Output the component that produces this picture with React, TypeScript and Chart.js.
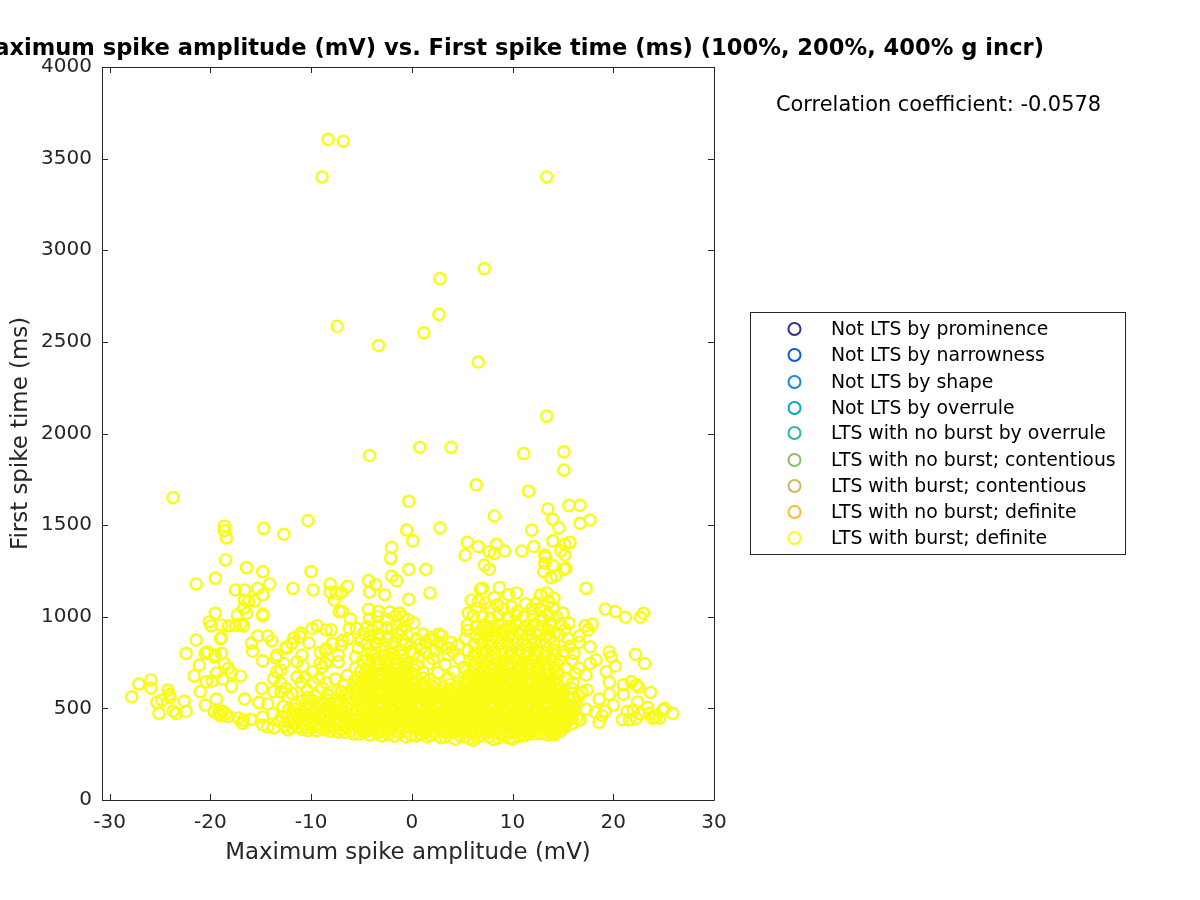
import React, { useEffect, useRef } from "react";
import { Chart, registerables } from "chart.js";

Chart.register(...registerables);

const titleText = "Maximum spike amplitude (mV) vs. First spike time (ms) (100%, 200%, 400% g incr)";
const xAxisLabel = "Maximum spike amplitude (mV)";
const yAxisLabel = "First spike time (ms)";
const correlationText = "Correlation coefficient: -0.0578";
const xTickValues = [-30, -20, -10, 0, 10, 20, 30];
const yTickValues = [0, 500, 1000, 1500, 2000, 2500, 3000, 3500, 4000];
const legendLabels = [
  "Not LTS by prominence",
  "Not LTS by narrowness",
  "Not LTS by shape",
  "Not LTS by overrule",
  "LTS with no burst by overrule",
  "LTS with no burst; contentious",
  "LTS with burst; contentious",
  "LTS with no burst; definite",
  "LTS with burst; definite",
];
const legendColors = ["#3B2C8F", "#0B5CE0", "#1A86DC", "#06A8C8", "#2CB5A0", "#86BE6E", "#D2B65A", "#FDBB2B", "#F9FB15"];

const upperPoints = [
  [-8.3,3605],[-6.8,3595],[-8.9,3400],[13.4,3400],[7.2,2900],[2.8,2845],[2.7,2650],[-7.4,2585],[1.2,2550],[-3.3,2480],[6.6,2390],[13.4,2095],
  [0.8,1925],[3.9,1925],[-4.2,1880],[11.1,1890],[15.1,1900],[15.1,1800],[6.4,1720],[11.6,1685],[-23.7,1650],[-0.3,1630],[15.6,1608],[16.7,1608],
  [13.5,1588],[8.2,1550],[14,1532],[16.7,1510],[17.7,1528],[-10.3,1525],[14.6,1485],[-18.6,1495],[-18.6,1470],[-18.4,1430],[-14.7,1482],[-12.7,1450],
  [-0.5,1473],[2.8,1485],[11.9,1473],[0.1,1414],[5.5,1406],[6.6,1383],[5.3,1337],[8.4,1395],[7.7,1355],[8.2,1346],[9.2,1359],[10.9,1359],[12.1,1383],
  [14,1414],[15.7,1406],[15.2,1395],[14.8,1360],[15.2,1337],[13.2,1337],[13.3,1325],[13.2,1292],[13.1,1246],[14,1280],[15.3,1264],[15.1,1258],[7.2,1282],
  [7.7,1259],[-0.3,1259],[1.4,1259],[1.8,1130],[-0.3,1095],[-2,1378],[-2.1,1320],[-18.5,1310],[-21.4,1179],[-19.5,1211],[-16.4,1268],[-14.8,1246],
  [-10,1246],[-11.8,1155],[-9.8,1146],[-8.1,1179],[-6.4,1166],[-8.1,1133],[-7.5,1128],[-7,1133],[-7.7,1091],[-7.2,1028],[-6.9,1030],[-4.3,1197],[-3.6,1175],
  [-2,1222],[-1.5,1197],[-4.2,1135],[-2.7,1120],[13.8,1215],[14.3,1225],[17.3,1155],[12.8,1120],[13.4,1130],[14.1,1100],[7,1155],[6.8,1150],
];

const leftWing = [
  [-17.5,1146],[-16.6,1146],[-15.3,1155],[-14.1,1179],[-14.8,1119],[-16.6,1091],[-15.6,1086],[-16.2,1085],[-16.7,1046],[-16.4,1019],[-17.3,1010],[-19.5,1019],
  [-14.8,1015],[-14.8,1005],[-20.1,973],[-19.9,950],[-18.9,955],[-18.2,950],[-17.5,951],[-16.7,950],[-17,960],[-18.9,885],[-19,880],[-21.4,873],[-22.4,800],
  [-20.3,809],[-20.5,800],[-19.5,791],[-18.9,800],[-21.1,736],[-19.6,781],[-18.6,745],[-18.2,720],[-21.6,677],[-19.4,693],[-17,677],[-17.9,693],[-20.4,645],
  [-19.8,650],[-18.8,660],[-17.9,620],[-21,591],[-20.5,518],[-19.4,551],[-16.6,551],[-27.8,563],[-27.1,633],[-25.9,655],[-25.9,611],[-24.2,600],[-24.1,575],
  [-24,560],[-25.3,533],[-24.8,545],[-25.1,473],[-22.6,540],[-23.7,486],[-23.4,473],[-22.4,484],[-19.6,480],[-19.2,470],[-18.8,485],[-18.5,470],[-18.2,455],
  [-19,460],[-17.2,447],[-16.7,436],[-16,440],[-16.8,418],[-14.8,453],[-14.8,409],[-14.3,398],[-13.7,393],[-12.3,382],[-15.9,857],[-15.3,895],[-14.3,895],
  [-13.9,868],[-15.8,813],[-14.8,759],[-10.2,857],[-9.1,806],[-11,911],[-9.9,937],[-9.4,950],[-8.5,928],[-8,928],[-6.2,937],[-5.5,937],[-6.1,988],[-11.1,890],
  [-11.9,855],[-12.4,829],[-13.4,791],[-13.5,775],[-12.7,745],[-11.4,754],[-10.9,791],[-10.8,731],[-13,709],[-13.4,700],[-13.7,664],[-13,638],[-11.4,671],
  [-10.6,671],[-14.9,609],[-13.7,591],[-11.9,582],[-12.3,564],[-10.4,600],[-15.2,533],[-14.3,524],[-9.1,745],[-8.6,745],[-8.9,725],[-7.3,754],[-7.3,790],
  [-5.6,781],[-7.9,852],[-6.9,870],[-6.3,880],[-8.5,825],[-7,845],[-8.6,815],[-11.7,885],[-12.5,835],[-9.9,700],[-9.2,660],[-8.5,640],[-7.6,660],[-6.8,630],
  [-9.8,640],[-8.9,610],[-7.3,600],[-6.4,680],[-5.7,650],[-5.2,620],[-12.8,510],[-12.2,495],[-11.5,520],[-10.8,480],[-10.1,505],[-9.4,530],[-8.8,475],
  [-8.1,510],[-7.5,545],[-6.9,490],[-6.2,525],[-5.6,565],[-12.9,455],[-12.2,430],[-11.5,470],[-10.8,425],[-10.2,455],[-9.5,410],[-8.9,440],[-8.2,400],
  [-7.6,430],[-7,385],[-6.4,420],[-5.8,465],[-13.2,430],[-13.8,470],[-11.2,400],[-10,395],[-8.6,385],[-7.8,395],[-6,375],[-5.3,405],[-5.2,360],
  [-13,590],[-12.5,610],[-11,640],[-9.6,570],[-8.4,575],[-7.9,530],[-6.7,570],[-5.6,720],[-5.9,610],[-5.1,700],[-4.9,760],[-5.3,830],[-5,870],[-4.8,910],
  [-11.9,460],[-11.2,445],[-10.5,500],[-9.9,470],[-9.2,450],[-8.5,500],[-7.9,465],[-7.2,450],[-6.6,460],[-6,440],[-5.4,490],[-11.6,495],[-10.9,540],[-10.3,560],
  [-9.1,495],[-8.3,545],[-7.1,530],[-6.3,585],[-5.2,540],[-4.9,585],[-5.5,435],[-6.7,405],[-7.4,415],[-8.3,425],[-9.1,395],[-9.9,425],[-10.6,405],[-11.6,415],
];

const rightWing = [
  [19.2,1042],[20.2,1028],[21.2,997],[22.7,997],[23,1019],[17.9,960],[17.2,950],[17.5,928],[17.7,836],[16.6,895],[16.6,860],[22.2,795],[23.1,745],[19.6,808],
  [19.8,781],[20.2,731],[19.3,700],[18.3,764],[17.7,745],[17.3,682],[19.6,642],[21,628],[21.8,645],[22.3,628],[22.5,615],[23.7,587],[21,577],[19.6,577],[20,518],
  [18.6,551],[17.4,600],[16.9,590],[16.6,570],[22.4,535],[23.4,506],[25.1,500],[25.9,473],[24.6,446],[23.9,446],[23.6,473],[20.9,439],[21.6,437],[21.4,484],[22.3,446],
  [22,490],[22.7,470],[24.9,490],[24.2,450],[18.6,424],[18.2,480],[18.9,460],[19.2,486],[16.7,437],[17.3,495],[16.4,450],[15,418],[14.2,358],
  [16.6,720],[16.2,690],[15.9,760],[16.1,800],[15.7,840],[15.5,880],[16,640],[15.8,610],[16.3,530],[15.8,500],[15.9,470],[15.4,440],[14.9,395],[16.1,560],
  [15.2,930],[14.8,960],[15.6,965],[14.4,1000],[15,1020],[14,1050],[13.6,1080],[12.7,1040],[13.1,985],[14.6,900],[15.1,810],[15.3,720],[15.4,660],[15.1,590],
];

const coreCloud = [
  [1.5,345],[2.9,340],[4.3,332],[5.3,345],[6.1,327],[6.9,350],[8.1,330],[9.3,345],[10,333],[11.2,350],[12.4,362],[13.5,355],
  [-4.6,372],[-3.4,365],[-2.3,358],[-1.2,370],[-0.1,355],[0.9,362],[2.2,368],[3.6,358],[5.1,372],[6.3,360],[7.4,368],[8.7,362],[10.4,372],[11.8,378],[12.9,385],[14.1,375],
  [-5,395],[-3.9,398],[-3,392],[-1.9,402],[-0.9,390],[0.2,396],[1.3,388],[2.7,395],[3.2,402],[4.2,385],[5,398],[5.8,390],[6.6,400],[7.6,392],[8.3,402],[9.1,388],[9.9,400],[11,392],[11.6,404],[12.5,395],[13.4,408],[14.5,402],
  [-4.4,428],[-3.5,432],[-2.6,425],[-1.6,436],[-0.5,428],[0.6,432],[1.6,424],[2.4,434],[3.4,428],[4.5,420],[5.4,432],[6.2,425],[7,435],[7.9,425],[8.8,433],[9.5,424],[10.5,435],[11.3,428],[12.1,434],[13,426],[14,438],[15,430],
  [-4.8,462],[-3.8,468],[-3,460],[-2.1,472],[-1.1,462],[-0.1,468],[1,460],[2,470],[2.9,462],[3.9,470],[4.8,458],[5.8,468],[6.6,460],[7.4,472],[8.3,462],[9.2,470],[10,460],[10.9,470],[11.8,462],[12.7,472],[13.5,462],[14.5,470],[15.3,465],
  [-4.3,498],[-3.3,504],[-2.4,496],[-1.5,506],[-0.6,498],[0.4,505],[1.4,496],[2.4,504],[3.4,498],[4.3,505],[5.2,496],[6.1,504],[7,496],[7.8,506],[8.7,498],[9.6,506],[10.4,496],[11.4,504],[12.3,498],[13.1,506],[14,498],[15,505],
  [-4.7,535],[-3.8,540],[-2.9,532],[-1.9,542],[-1,534],[0,540],[0.9,532],[1.9,540],[2.9,534],[3.8,542],[4.7,532],[5.6,540],[6.5,532],[7.3,542],[8.2,534],[9.1,542],[10,532],[10.9,540],[11.8,534],[12.7,542],[13.6,534],[14.6,542],
  [-4.2,572],[-3.3,578],[-2.4,570],[-1.4,580],[-0.5,572],[0.4,578],[1.5,570],[2.5,580],[3.4,574],[4.3,580],[5.2,568],[6.1,576],[7,568],[7.8,578],[8.7,570],[9.6,578],[10.5,570],[11.4,578],[12.3,570],[13.2,578],[14.1,572],[15,578],
  [-4.6,610],[-3.8,616],[-2.9,608],[-1.9,618],[-1,610],[0,616],[0.9,608],[2,618],[3.1,612],[4.6,618],[5.7,606],[6.6,614],[7.5,606],[8.3,616],[9.2,608],[10.1,616],[11,606],[11.9,614],[12.8,606],[13.8,616],[14.7,612],
  [-4.2,648],[-3.3,654],[-2.4,646],[-1.4,656],[-0.5,648],[0.5,654],[1.8,660],[3.7,665],[5.1,645],[6.1,652],[7,644],[7.9,654],[8.7,646],[9.6,654],[10.5,644],[11.4,652],[12.3,644],[13.2,654],[14.2,650],
  [-4.6,686],[-3.8,692],[-2.9,684],[-1.9,694],[-1,686],[0,692],[1.1,700],[2.6,695],[4.2,700],[5.7,682],[6.6,690],[7.5,682],[8.3,692],[9.2,684],[10.1,692],[11,682],[11.9,690],[12.8,682],[13.7,692],[14.6,688],
  [-4.1,724],[-3.3,730],[-2.4,722],[-1.4,732],[-0.5,724],[0.5,736],[1.7,745],[3.3,740],[5.2,725],[6.1,728],[7,720],[7.9,730],[8.8,722],[9.6,730],[10.5,720],[11.4,728],[12.3,720],[13.2,730],[14.2,726],
  [-4.4,765],[-3.5,772],[-2.6,762],[-1.6,774],[-0.7,766],[0.7,780],[2.1,772],[3.6,790],[4.7,770],[5.8,760],[6.7,768],[7.5,758],[8.4,770],[9.3,762],[10.2,768],[11.1,758],[12,768],[12.9,760],[13.8,770],[14.7,760],
  [-4,808],[-3,815],[-2.2,802],[-1.2,818],[-0.2,810],[0.9,825],[2.3,815],[3.5,830],[4.6,845],[5.6,815],[6.4,802],[7.3,812],[8.2,804],[9,814],[9.9,806],[10.7,814],[11.6,804],[12.5,812],[13.4,806],[14.2,816],[15,790],
  [-4.5,850],[-3.6,858],[-2.7,848],[-1.7,862],[-0.6,852],[0.5,880],[1.4,860],[2.2,875],[3,895],[3.9,860],[5.3,880],[6.2,850],[7,858],[7.9,846],[8.8,856],[9.6,848],[10.5,858],[11.4,848],[12.3,856],[13.2,848],[14.1,860],
  [-4.2,895],[-3.3,905],[-2.4,892],[-1.4,910],[-0.4,898],[1.1,905],[1.9,888],[2.7,905],[5.5,925],[6.4,900],[7.2,908],[8,895],[8.9,905],[9.7,895],[10.6,908],[11.5,898],[12.4,905],[13.3,895],[14.2,915],
  [-4.4,945],[-3.4,952],[-2.5,940],[-1.5,960],[-0.7,948],[0.2,965],[5.5,955],[6.4,945],[7.2,955],[8,945],[8.7,958],[9.6,948],[10.4,960],[11.3,950],[12.1,958],[13,948],[13.8,962],
  [-4.2,990],[-3.4,1000],[-2.5,985],[-1.6,1005],[-0.9,1000],[-0.4,985],[6.1,1005],[7,1000],[7.8,990],[8.6,1005],[9.5,995],[10.3,1010],[11.1,1000],[12,1005],[12.8,990],[13.6,1010],
  [-4.3,1040],[-3.3,1030],[-2.2,1025],[-1.2,1020],[5.6,1020],[6.4,1045],[6.6,1085],[5.9,1090],[7.8,1050],[8.5,1065],[9.1,1040],[9.9,1055],[10.5,1030],[11.3,1070],[11.9,1045],[12.4,1075],[13,1060],[8.7,1160],[9.6,1120],[10.4,1130],[8.2,1105],[7.3,1075],
];

const coreFill = [
  [-4.9,380],[-4,385],[-3.1,378],[-2.2,384],[-1.4,380],[-0.5,376],[0.5,382],[1.4,372],[2.3,380],[3.2,376],[4.1,370],[5,384],[5.9,376],[6.8,382],[7.7,374],[8.6,380],[9.5,372],[10.3,384],[11.2,378],[12.1,386],[13,395],[13.9,388],[14.8,378],
  [-4.6,414],[-3.7,418],[-2.8,410],[-2,416],[-1.1,412],[-0.2,416],[0.8,410],[1.8,418],[2.7,412],[3.6,416],[4.6,408],[5.5,416],[6.3,412],[7.2,418],[8.1,410],[9,416],[9.8,410],[10.7,418],[11.5,412],[12.4,418],[13.2,412],[14.2,420],[15.1,410],[15.9,415],
  [-5,448],[-4.1,445],[-3.3,450],[-2.4,444],[-1.5,450],[-0.6,445],[0.3,450],[1.3,444],[2.2,450],[3.1,446],[4.1,450],[5,444],[5.9,450],[6.8,446],[7.7,450],[8.6,446],[9.5,450],[10.3,444],[11.2,450],[12.2,446],[13.1,450],[14,448],[14.9,450],[15.9,445],
  [-4.6,482],[-3.6,486],[-2.7,480],[-1.8,486],[-0.9,482],[0.1,486],[1.1,480],[2.1,486],[3.1,482],[4,486],[5,480],[5.9,486],[6.7,480],[7.6,486],[8.5,482],[9.4,486],[10.2,480],[11.1,486],[12,482],[12.9,486],[13.8,482],[14.7,486],[15.6,482],[16.2,490],
  [-5,518],[-4.1,522],[-3.1,516],[-2.2,522],[-1.3,516],[-0.3,522],[0.7,516],[1.7,522],[2.6,516],[3.6,522],[4.5,516],[5.4,522],[6.3,516],[7.2,522],[8,516],[8.9,522],[9.8,516],[10.7,522],[11.6,516],[12.5,522],[13.4,516],[14.3,522],[15.2,520],[16,518],
  [-4.5,553],[-3.5,558],[-2.6,552],[-1.7,558],[-0.7,552],[0.3,558],[1.2,552],[2.2,558],[3.2,552],[4.1,558],[5,552],[5.9,558],[6.8,552],[7.6,558],[8.5,552],[9.4,558],[10.2,552],[11.1,558],[12,552],[13,558],[13.9,552],[14.8,558],[15.6,552],
  [-4.8,592],[-3.9,596],[-2.9,590],[-2,596],[-1.1,590],[-0.2,596],[0.8,590],[1.9,596],[2.9,592],[3.9,596],[4.9,590],[5.8,596],[6.7,590],[7.5,596],[8.4,590],[9.3,596],[10.2,590],[11.1,596],[12,590],[12.9,596],[13.7,590],[14.6,596],
  [-4.4,630],[-3.5,634],[-2.6,628],[-1.7,634],[-0.8,628],[0.2,634],[1.2,628],[2.3,636],[3.8,632],[5.3,628],[6.2,634],[7.2,628],[8,634],[8.9,628],[9.8,634],[10.7,628],[11.6,634],[12.5,628],[13.4,634],[14.3,630],
  [-4.1,668],[-3.2,672],[-2.3,666],[-1.5,672],[-0.6,666],[0.4,672],[1.2,666],[5.5,664],[6.4,670],[7.3,664],[8.2,670],[9,664],[9.9,670],[10.8,664],[11.7,670],[12.6,664],[13.5,670],[14.3,666],
  [-4.4,705],[-3.5,710],[-2.6,704],[-1.7,710],[-0.8,704],[0.2,712],[5.4,705],[6.4,708],[7.2,702],[8.1,708],[9,702],[9.8,708],[10.7,702],[11.6,708],[12.5,702],[13.4,708],[14.4,704],
  [-4.2,745],[-3.3,750],[-2.5,742],[-1.5,750],[-0.6,744],[6.3,746],[7.2,740],[8.1,746],[9,740],[9.8,746],[10.7,738],[11.6,746],[12.5,740],[13.4,748],[14.4,742],
  [-3.7,790],[-2.8,785],[-1.9,795],[-0.9,788],[0.2,800],[6.1,785],[7,790],[7.8,782],[8.9,792],[9.7,784],[10.5,792],[11.3,782],[12.2,790],[13.1,782],[14,794],[4.1,810],[2.9,838],[1.4,805],
  [-3.2,880],[-1.9,835],[-0.9,875],[0.8,850],[2.7,860],[6.7,880],[7.6,870],[8.4,885],[9.3,872],[10.1,884],[11,872],[11.9,880],[12.8,870],[13.7,885],[-3.9,925],[-2,932],[-1,925],[6.8,925],[7.6,930],[8.4,925],[9.2,928],[10,935],[10.9,925],[11.7,930],[12.6,925],[13.5,930],
];

const coreSolid = [
  [-4.2,355],[-3,350],[-1.7,348],[-0.6,345],[0.4,350],[1.9,352],[3.3,346],[4.8,350],[5.7,336],[6.5,342],[7.6,345],[8.6,338],[9.7,338],[10.6,348],[11.7,360],[12.9,362],[13.9,360],
  [-4.7,398],[-3.5,402],[-2.5,398],[-1.4,398],[-0.4,402],[0.7,398],[1.8,402],[2.2,398],[3.7,398],[4.6,392],[5.4,402],[6.2,396],[7.1,402],[8,396],[8.7,398],[9.5,402],[10.4,396],[11.3,402],[12,398],[12.9,404],[14,402],[15.2,395],
  [-4.9,432],[-3.9,430],[-3.1,436],[-2.1,432],[-1.1,436],[0.1,434],[1.1,438],[2,430],[2.9,438],[3.9,434],[4.9,436],[5.8,436],[6.6,440],[7.5,432],[8.3,438],[9.1,434],[10,438],[10.9,432],[11.7,438],[12.6,432],[13.5,436],[14.5,434],[15.5,434],
  [-4.3,468],[-3.4,466],[-2.6,472],[-1.7,466],[-0.7,472],[0.5,468],[1.5,472],[2.5,466],[3.4,472],[4.4,466],[5.3,472],[6.2,466],[7,470],[7.9,466],[8.8,472],[9.7,466],[10.5,472],[11.4,466],[12.3,472],[13.1,466],[14,472],[15,468],[15.8,462],
  [-4.8,502],[-3.8,500],[-2.9,504],[-1.9,500],[-1,506],[0,500],[0.9,506],[1.9,500],[2.9,506],[3.9,500],[4.8,506],[5.7,500],[6.6,506],[7.4,500],[8.2,506],[9.1,502],[10,506],[10.9,500],[11.8,506],[12.7,500],[13.6,506],[14.5,502],[15.5,506],
  [-4.2,538],[-3.3,536],[-2.4,540],[-1.4,536],[-0.5,542],[0.5,536],[1.4,542],[2.4,536],[3.3,542],[4.2,536],[5.2,542],[6,536],[6.9,542],[7.8,536],[8.6,542],[9.5,536],[10.4,542],[11.3,536],[12.2,542],[13.1,536],[14.1,542],[15.1,538],
  [-4.7,574],[-3.7,572],[-2.8,576],[-1.9,572],[-0.9,578],[0,572],[1,578],[2,572],[3,578],[3.9,574],[4.8,578],[5.6,572],[6.5,578],[7.4,572],[8.2,578],[9.1,572],[10,578],[10.9,572],[11.8,578],[12.7,572],[13.6,578],[14.6,574],
  [-4.2,612],[-3.3,608],[-2.4,614],[-1.4,610],[-0.5,614],[0.4,610],[1.4,614],[5.2,610],[6.1,612],[7,608],[7.9,614],[8.8,608],[9.6,614],[10.5,608],[11.4,614],[12.3,608],[13.3,614],[14.2,610],
  [-4.6,650],[-3.8,648],[-2.9,652],[-1.9,648],[-1,652],[0,648],[5.7,646],[6.6,650],[7.5,646],[8.3,652],[9.1,646],[10,652],[10.9,646],[11.8,652],[12.8,646],[13.7,652],
  [-4.1,688],[-3.3,686],[-2.4,690],[-1.4,686],[-0.5,692],[6.1,688],[7,686],[7.9,690],[8.8,686],[9.6,690],[10.5,686],[11.4,690],[12.3,686],[13.2,690],
  [-12.4,450],[-11.7,438],[-11,462],[-10.4,440],[-9.7,442],[-9,468],[-8.5,452],[-7.8,440],[-7.1,470],[-6.4,445],[-5.8,410],[-12.6,405],[-11.9,395],[-10.9,385],[-10.3,380],[-9.4,378],[-8.1,375],[-7.3,372],[-6.6,368],[-5.8,360],
  [-10.6,520],[-9.9,545],[-9.2,515],[-8.7,530],[-7.9,495],[-7.3,515],[-6.6,510],[-5.9,500],[-5.3,520],[-6.2,555],[-7,590],[-5.5,595],[-5.1,640],[-5.4,670],
];

const allPoints = [...upperPoints, ...leftWing, ...rightWing, ...coreCloud, ...coreFill, ...coreSolid];

const chromePlugin = {
  id: "matlabChrome",
  afterDatasetsDraw(chart: any) {
    const { ctx, chartArea: a, scales } = chart;
    const ink = "#262626";
    ctx.save();
    ctx.strokeStyle = ink;
    ctx.lineWidth = 1;
    ctx.beginPath();
    ctx.rect(a.left + 0.5, a.top + 0.5, a.right - a.left, a.bottom - a.top);
    xTickValues.forEach((v) => {
      const p = Math.round(scales.x.getPixelForValue(v)) + 0.5;
      ctx.moveTo(p, a.bottom);
      ctx.lineTo(p, a.bottom - 6);
      ctx.moveTo(p, a.top);
      ctx.lineTo(p, a.top + 6);
    });
    yTickValues.forEach((v) => {
      const p = Math.round(scales.y.getPixelForValue(v)) + 0.5;
      ctx.moveTo(a.left, p);
      ctx.lineTo(a.left + 6, p);
      ctx.moveTo(a.right, p);
      ctx.lineTo(a.right - 6, p);
    });
    ctx.stroke();

    ctx.fillStyle = "#000000";
    ctx.textBaseline = "middle";
    ctx.textAlign = "right";
    ctx.font = "bold 22.6px 'DejaVu Sans'";
    ctx.fillText(titleText, 1044, 49);
    ctx.textAlign = "left";
    ctx.font = "20.9px 'DejaVu Sans'";
    ctx.fillText(correlationText, 776, 106);

    ctx.strokeStyle = ink;
    ctx.lineWidth = 1;
    ctx.strokeRect(750.5, 312.5, 375, 242);
    ctx.font = "18.85px 'DejaVu Sans'";
    const rows = [329, 355, 382, 408, 433, 460, 486, 512, 538];
    chart.data.datasets.forEach((d: any, i: number) => {
      ctx.beginPath();
      ctx.arc(794.5, rows[i], 6, 0, Math.PI * 2);
      ctx.strokeStyle = d.borderColor;
      ctx.lineWidth = 2;
      ctx.stroke();
      ctx.fillStyle = "#000000";
      ctx.fillText(d.label, 831, rows[i] + 1);
    });
    ctx.restore();
  },
};

export default function App() {
  const ref = useRef<HTMLCanvasElement>(null);
  useEffect(() => {
    const datasets = legendLabels.map((label, i) => ({
      label,
      data: i === legendLabels.length - 1 ? allPoints.map(([x, y]) => ({ x, y })) : [],
      borderColor: legendColors[i],
      backgroundColor: "transparent",
      pointRadius: 5.6,
      pointBorderWidth: 2.4,
      pointStyle: "circle",
    }));
    const tickFont = { family: "'DejaVu Sans'", size: 20 };
    const chart = new Chart(ref.current!, {
      type: "scatter",
      data: { datasets },
      plugins: [chromePlugin],
      options: {
        responsive: false,
        animation: false,
        devicePixelRatio: 1,
        layout: { padding: { top: 67, right: 486, left: 0, bottom: 0 } },
        plugins: { legend: { display: false }, title: { display: false }, tooltip: { enabled: false } },
        scales: {
          x: {
            type: "linear",
            min: -30.75,
            max: 30,
            grid: { display: false, drawTicks: false },
            border: { display: false },
            afterFit: (s: any) => { s.height = 100; },
            afterBuildTicks: (s: any) => { s.ticks = xTickValues.map((value) => ({ value })); },
            ticks: { color: "#262626", font: tickFont, padding: 11, maxRotation: 0, autoSkip: false, callback: (v: any) => String(v) },
            title: { display: true, text: xAxisLabel, color: "#262626", font: { family: "'DejaVu Sans'", size: 22.9 }, padding: { top: 0, bottom: 33 } },
          },
          y: {
            type: "linear",
            min: 0,
            max: 4000,
            grid: { display: false, drawTicks: false },
            border: { display: false },
            afterFit: (s: any) => { s.width = 102; },
            afterBuildTicks: (s: any) => { s.ticks = yTickValues.map((value) => ({ value })); },
            ticks: { color: "#262626", font: tickFont, padding: 10, autoSkip: false, callback: (v: any) => String(v) },
            title: { display: true, text: yAxisLabel, color: "#262626", font: { family: "'DejaVu Sans'", size: 22.9 }, padding: { top: 7, bottom: 0 } },
          },
        },
      } as any,
    });
    return () => chart.destroy();
  }, []);
  return <canvas ref={ref} width={1200} height={900} style={{ position: "absolute", left: 0, top: 0, width: 1200, height: 900, display: "block" }} />;
}
